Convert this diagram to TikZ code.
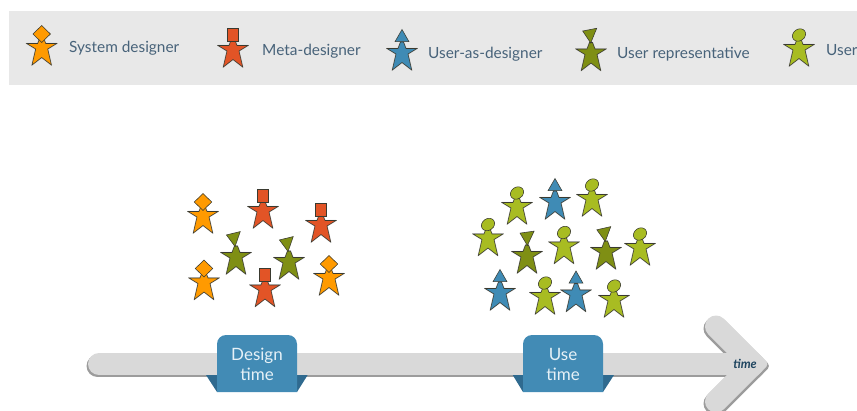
\documentclass[tikz,border=0pt]{standalone}
\usepackage{fontspec}
\setmainfont{Lato}
\definecolor{band}{HTML}{E8E8E8}
\definecolor{labelc}{HTML}{48637A}
\definecolor{cOrange}{HTML}{FF9A00}
\definecolor{cMeta}{HTML}{E25426}
\definecolor{cBlue}{HTML}{3F8BB5}
\definecolor{cRep}{HTML}{7F8F14}
\definecolor{cUser}{HTML}{A8BC22}
\definecolor{bar}{HTML}{D9D9D9}
\definecolor{barshadow}{HTML}{9C9C9C}
\definecolor{fold}{HTML}{2F6A8F}
\definecolor{tag}{HTML}{428BB5}
\definecolor{tagtext}{HTML}{E6F1F7}
\definecolor{timec}{HTML}{1F4560}
\definecolor{outline}{HTML}{3A3A30}
\newcommand{\starpath}{(-15,-6.5) -- (-4,-6.5) -- (-1.5,-13) -- (1.5,-13) -- (4,-6.5) -- (15,-6.5) -- (6,-1) -- (9.7,15) -- (0,7.5) -- (-9.7,15) -- (-6,-1) -- cycle}
\newcommand{\tippath}{(755.1,350) -- (769.1,364) -- (755.1,378) -- (745,364) -- cycle}
\tikzset{
  x=1pt,y=-1pt,
  halo/.style={draw=black!35,line width=1.3pt,line join=round,opacity=.55},
  edge/.style={draw=outline,line width=.55pt,line join=miter},
  legendtext/.style={inner sep=0,anchor=west,text=labelc,font=\fontsize{15.4}{17}\selectfont},
  tagtitle/.style={inner sep=0,anchor=base,text=tagtext,font=\fontsize{17}{20}\selectfont},
  timelabel/.style={inner sep=0,text=timec,font=\fontsize{12.5}{14}\bfseries\itshape\selectfont},
  bartrack/.style={line width=22pt,line cap=round,line join=round},
  pics/star/.style={code={
    \path[halo] \starpath;
    \path[edge,fill=#1] \starpath;
  }},
  pics/sysd/.style={code={
    \pic {star=cOrange};
    \path[edge,fill=cOrange] (0,-24.5) -- (8.7,-16) -- (0,-7.5) -- (-8.7,-16) -- cycle;
  }},
  pics/metad/.style={code={
    \pic {star=cMeta};
    \path[edge,fill=cMeta] (-5.7,-23.7) rectangle (5.7,-10.3);
  }},
  pics/asd/.style={code={
    \pic {star=cBlue};
    \path[edge,fill=cBlue] (0,-25.5) -- (7,-13.3) -- (-7,-13.3) -- cycle;
  }},
  pics/repd/.style={code={
    \pic {star=cRep};
    \path[edge,fill=cRep] (-8.3,-24.5) -- (5.7,-27.2) -- (-0.3,-12.5) -- cycle;
  }},
  pics/userd/.style={code={
    \pic {star=cUser};
    \path[edge,fill=cUser,rotate around={35:(0,-16)}] (0,-16) ellipse [x radius=7,y radius=5.8];
  }},
}
\begin{document}
\begin{tikzpicture}
\useasboundingbox (0,0) rectangle (857,410);
\clip (0,0) rectangle (857,410);
% legend band
\fill[band] (9,11) rectangle (857,85);
\pic at (41.7,50) {sysd};
\node[legendtext] (l1) at (69,48) {System designer};
\pic at (233,52) {metad};
\node[legendtext] (l2) at (262,51) {Meta-designer};
\pic at (402,55) {asd};
\node[legendtext] (l3) at (428,54.5) {User-as-designer};
\pic at (591,55.5) {repd};
\node[legendtext] (l4) at (617,54.5) {User representative};
\pic at (799,51) {userd};
\node[legendtext] (l5) at (826,50) {User};
% design-time group
\pic at (203,218) {sysd};
\pic at (263,213) {metad};
\pic at (321,227) {metad};
\pic[rotate=3] at (236,259) {repd};
\pic[rotate=3] at (289,264) {repd};
\pic at (204,284.5) {sysd};
\pic at (265,291.5) {metad};
\pic at (329,280) {sysd};
% use-time group
\pic at (517,209) {userd};
\pic at (555,204) {asd};
\pic at (592,201) {userd};
\pic at (488,240.5) {userd};
\pic[rotate=-3] at (527,258) {repd};
\pic at (564,248.5) {userd};
\pic[rotate=2] at (606,254) {repd};
\pic at (640,250) {userd};
\pic at (500,295) {asd};
\pic at (545,299) {userd};
\pic at (576,296.5) {asd};
\pic at (614,302) {userd};
% timeline arrow
\coordinate (barstart) at (99,364);
\coordinate (bartip) at (753.5,364);
\coordinate (armup) at (716,326.5);
\coordinate (armdown) at (716,401.5);
\begin{scope}[transform canvas={shift={(-1.5pt,-2pt)}}]
\draw[bartrack,barshadow] (barstart) -- (bartip);
\draw[bartrack,barshadow] (armup) -- (bartip) -- (armdown);
\end{scope}
\begin{scope}[transform canvas={shift={(1.5pt,-2pt)}}]
\draw[bartrack,barshadow] (armup) -- (bartip) -- (armdown);
\fill[barshadow,rounded corners=4pt] \tippath;
\end{scope}
\draw[bartrack,bar] (barstart) -- (bartip);
\draw[bartrack,bar] (armup) -- (bartip) -- (armdown);
\fill[bar,rounded corners=4pt] \tippath;
\node[timelabel] (timel) at (745,364) {time};
% Design time tag
\fill[fold] (206,375) -- (217,375) -- (217,392) -- cycle;
\fill[fold] (307.7,375) -- (297,375) -- (297,392) -- cycle;
\fill[tag] (217,392) -- (217,344) arc[start angle=180,end angle=90,radius=9pt] -- (288,335) arc[start angle=90,end angle=0,radius=9pt] -- (297,392) -- cycle;
\node[tagtitle] (d1) at (257,360) {Design};
\node[tagtitle] (d2) at (257,380) {time};
% Use time tag
\fill[fold] (512.7,375) -- (523,375) -- (523,392) -- cycle;
\fill[fold] (614,375) -- (603,375) -- (603,392) -- cycle;
\fill[tag] (523,392) -- (523,344) arc[start angle=180,end angle=90,radius=9pt] -- (594,335) arc[start angle=90,end angle=0,radius=9pt] -- (603,392) -- cycle;
\node[tagtitle] (u1) at (563,360) {Use};
\node[tagtitle] (u2) at (563,380) {time};
\end{tikzpicture}
\end{document}
